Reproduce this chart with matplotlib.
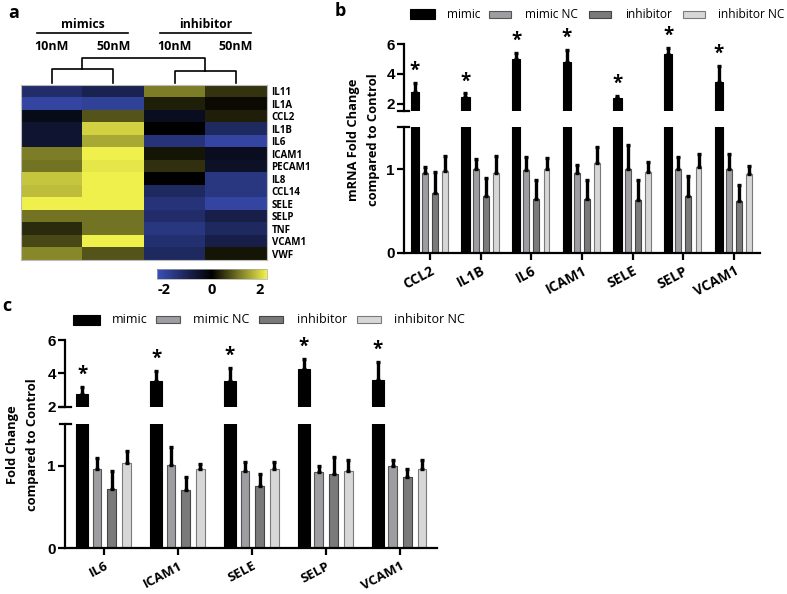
import numpy as np
import matplotlib
matplotlib.use('Agg')
import matplotlib.pyplot as plt
from matplotlib.colors import LinearSegmentedColormap
from matplotlib.patches import Rectangle

plt.rcParams['font.family'] = ['Open Sans', 'DejaVu Sans']

# ---------------- data ----------------
heat_rows = ['IL11', 'IL1A', 'CCL2', 'IL1B', 'IL6', 'ICAM1', 'PECAM1', 'IL8',
             'CCL14', 'SELE', 'SELP', 'TNF', 'VCAM1', 'VWF']
heat_cols = ['10nM', '50nM', '10nM', '50nM']
heat_groups = ['mimics', 'inhibitor']
heat_values = np.array([
    [-1.3, -1.0, 1.2, 0.5],
    [-2.0, -1.9, 0.3, 0.1],
    [-0.3, 0.8, -0.4, 0.3],
    [-0.6, 2.0, 0.0, -1.2],
    [-0.6, 1.6, -1.5, -2.0],
    [1.2, 2.3, 0.2, -0.4],
    [1.1, 2.2, 0.45, -0.5],
    [1.9, 2.3, 0.0, -1.6],
    [1.8, 2.3, -1.2, -1.6],
    [2.4, 2.4, -1.5, -2.0],
    [1.1, 1.1, -1.3, -0.9],
    [0.4, 1.1, -1.6, -1.2],
    [0.7, 2.3, -1.4, -0.9],
    [1.3, 0.8, -1.2, 0.2],
])
cbar_ticks = [-2, 0, 2]

series_names = ['mimic', 'mimic NC', 'inhibitor', 'inhibitor NC']

genes_b = ['CCL2', 'IL1B', 'IL6', 'ICAM1', 'SELE', 'SELP', 'VCAM1']
mimic_b = [2.8, 2.45, 5.0, 4.77, 2.4, 5.36, 3.49]
mimic_b_err = [0.57, 0.25, 0.43, 0.82, 0.13, 0.40, 1.07]
mimicnc_b = [0.95, 1.0, 0.99, 0.95, 1.0, 1.0, 1.0]
mimicnc_b_err = [0.08, 0.12, 0.15, 0.10, 0.29, 0.14, 0.18]
inh_b = [0.72, 0.68, 0.64, 0.64, 0.63, 0.68, 0.62]
inh_b_err = [0.25, 0.21, 0.23, 0.23, 0.24, 0.24, 0.19]
inhnc_b = [0.98, 0.95, 1.0, 1.07, 0.97, 1.03, 0.94]
inhnc_b_err = [0.18, 0.21, 0.13, 0.20, 0.11, 0.15, 0.10]
sig_b = [True, True, True, True, True, True, True]

genes_c = ['IL6', 'ICAM1', 'SELE', 'SELP', 'VCAM1']
mimic_c = [2.76, 3.54, 3.54, 4.24, 3.6]
mimic_c_err = [0.44, 0.60, 0.76, 0.63, 1.09]
mimicnc_c = [0.96, 1.01, 0.93, 0.92, 0.99]
mimicnc_c_err = [0.13, 0.21, 0.12, 0.07, 0.08]
inh_c = [0.72, 0.71, 0.75, 0.90, 0.86]
inh_c_err = [0.21, 0.15, 0.15, 0.20, 0.10]
inhnc_c = [1.03, 0.96, 0.96, 0.94, 0.96]
inhnc_c_err = [0.15, 0.06, 0.09, 0.13, 0.11]
sig_c = [True, True, True, True, True]

upper_ticks = [2, 4, 6]
lower_ticks = [0, 1]

# ---------------- style ----------------
face = ['#000000', '#9e9ea2', '#7a7a7a', '#d7d7d7']
edge = ['#000000', '#555555', '#444444', '#7a7a7a']
offsets = [-0.3, -0.1, 0.1, 0.3]
widths = [0.16, 0.115, 0.115, 0.115]
SPW = 1.6

W, H = 787, 594
fig = plt.figure(figsize=(W / 100, H / 100), dpi=100)


def px_axes(x0, y0, x1, y1):
    return fig.add_axes([x0 / W, 1 - y1 / H, (x1 - x0) / W, (y1 - y0) / H])


over = px_axes(0, 0, W, H)
over.set_xlim(0, W)
over.set_ylim(H, 0)
over.axis('off')

# ---------------- panel a: heatmap ----------------
cmap = LinearSegmentedColormap.from_list('byk', ['#3b4fb8', '#000000', '#f0f04c'])
hx0, hy0, hx1, hy1 = 21, 85, 266.7, 260
axh = px_axes(hx0, hy0, hx1, hy1)
im = axh.imshow(heat_values, cmap=cmap, vmin=-2.3, vmax=2.3, aspect='auto',
                interpolation='nearest')
axh.set_xticks([])
axh.set_yticks(range(len(heat_rows)))
axh.set_yticklabels(heat_rows, fontsize=7, fontweight='bold')
axh.yaxis.tick_right()
axh.tick_params(axis='y', length=0, pad=3.5)
for s in axh.spines.values():
    s.set_color('#bbbbbb')
    s.set_linewidth(0.8)

colw = (hx1 - hx0) / len(heat_cols)
cc = [hx0 + colw * (i + 0.5) for i in range(len(heat_cols))]
for i, lab in enumerate(heat_cols):
    over.text(cc[i], 46.5, lab, ha='center', va='center', fontsize=9, fontweight='bold')
for g, lab in enumerate(heat_groups):
    mid = (cc[2 * g] + cc[2 * g + 1]) / 2
    over.text(mid, 25, lab, ha='center', va='center', fontsize=8.7, fontweight='bold')
    over.plot([cc[2 * g] - 15, cc[2 * g + 1] + 15], [33.3, 33.3], color='k', lw=1.2)
# dendrogram
lk = dict(color='k', lw=1.2)
lm = (cc[0] + cc[1]) / 2
rm = (cc[2] + cc[3]) / 2
over.plot([cc[0], cc[0], cc[1], cc[1]], [83.3, 69.3, 69.3, 83.3], **lk)
over.plot([cc[2], cc[2], cc[3], cc[3]], [83.3, 70.7, 70.7, 83.3], **lk)
over.plot([lm, lm, rm, rm], [69.3, 58.3, 58.3, 70.7], **lk)

cax = px_axes(157.3, 268.7, 266.7, 278.7)
cb = fig.colorbar(im, cax=cax, orientation='horizontal', ticks=cbar_ticks)
cb.outline.set_linewidth(0.5)
cb.outline.set_edgecolor('#aaaaaa')
cax.tick_params(length=0, pad=3)
cax.set_xticklabels([str(t) for t in cbar_ticks], fontsize=10.5, fontweight='bold')

# ---------------- bar panels ----------------
def broken_panel(x0, x1, up_y0, up_y1, lo_y0, lo_y1, up_lim, xlim, genes,
                 means, errs, sig, lab_fs):
    n = len(genes)
    xpos = np.arange(n)
    lo = px_axes(x0, lo_y0, x1, lo_y1)
    up = px_axes(x0, up_y0, x1, up_y1)
    for ax in (lo, up):
        for i in range(4):
            ax.bar(xpos + offsets[i], means[i], width=widths[i], color=face[i],
                   edgecolor=edge[i], linewidth=0.8, zorder=2)
            ax.errorbar(xpos + offsets[i], means[i],
                        yerr=[np.zeros(n), errs[i]], fmt='none', ecolor='k',
                        elinewidth=2.4, capsize=1.2, capthick=2.4, zorder=3)
        ax.set_xlim(*xlim)
        ax.spines['top'].set_visible(False)
        ax.spines['right'].set_visible(False)
        for s in ax.spines.values():
            s.set_linewidth(SPW)
        ax.tick_params(direction='out', length=5, width=SPW, labelsize=11, pad=1.5)
        ax.patch.set_visible(False)
    lo.set_ylim(0, 1.5)
    up.set_ylim(*up_lim)
    up.spines['bottom'].set_visible(False)
    up.set_xticks([])
    up.set_yticks(upper_ticks)
    up.set_yticklabels([str(t) for t in upper_ticks], fontweight='bold',
                       family=['Liberation Sans'])
    lo.set_yticks(lower_ticks)
    lo.set_yticklabels([str(t) for t in lower_ticks], fontweight='bold',
                       family=['Liberation Sans'])
    lo.set_xticks(xpos)
    lo.set_xticklabels(genes, rotation=28, ha='right', rotation_mode='anchor',
                       fontsize=lab_fs, fontweight='bold')
    lo.tick_params(axis='x', pad=3)
    half = 5.5 / (x1 - x0)
    up.plot([-half, half], [0, 0], transform=up.transAxes, color='k', lw=SPW,
            clip_on=False)
    lo.plot([-half, half], [1, 1], transform=lo.transAxes, color='k', lw=SPW,
            clip_on=False)
    for j in range(n):
        if sig[j]:
            up.annotate('*', (xpos[j] + offsets[0], means[0][j] + errs[0][j]),
                        xytext=(0, 1.5), textcoords='offset points', ha='center',
                        va='bottom', fontsize=13.5, fontweight='bold',
                        annotation_clip=False)
    return up, lo


broken_panel(404, 760, 44, 110.7, 127.3, 252.7, (1.55, 6), (-0.513, 6.513),
             genes_b,
             [mimic_b, mimicnc_b, inh_b, inhnc_b],
             [mimic_b_err, mimicnc_b_err, inh_b_err, inhnc_b_err], sig_b, 10)

broken_panel(65, 437, 340, 406.7, 424.3, 548.3, (2.0, 6), (-0.532, 4.5),
             genes_c,
             [mimic_c, mimicnc_c, inh_c, inhnc_c],
             [mimic_c_err, mimicnc_c_err, inh_c_err, inhnc_c_err], sig_c, 9.5)

# y labels
over.text(353, 140, 'mRNA Fold Change', rotation=90, ha='center', va='center',
          fontsize=9.3, fontweight='bold')
over.text(373, 140, 'compared to Control', rotation=90, ha='center', va='center',
          fontsize=9.3, fontweight='bold')
over.text(13, 445, 'Fold Change', rotation=90, ha='center', va='center',
          fontsize=9.3, fontweight='bold')
over.text(33, 445, 'compared to Control', rotation=90, ha='center', va='center',
          fontsize=9.3, fontweight='bold')

# legends
def legend(px, tx, yc, big_w, small_w, fs):
    for i, name in enumerate(series_names):
        w = big_w if i == 0 else small_w
        h = 10 if i == 0 else 7
        over.add_patch(Rectangle((px[i], yc - h / 2), w, h, facecolor=face[i],
                                 edgecolor=edge[i], linewidth=0.8))
        over.text(tx[i], yc, name, ha='left', va='center', fontsize=fs)


legend([410, 489, 589, 683], [446.7, 525, 625, 717.7], 14, 25, 22, 8.6)
legend([73, 156, 259, 357], [111.7, 193.3, 297, 394], 319.5, 27, 24, 9)

# panel letters
over.text(8, 13, 'a', fontsize=13, fontweight='bold', va='center', ha='left')
over.text(335, 11, 'b', fontsize=13, fontweight='bold', va='center', ha='left')
over.text(2, 306, 'c', fontsize=13, fontweight='bold', va='center', ha='left')

fig.savefig('out.png', dpi=100)
